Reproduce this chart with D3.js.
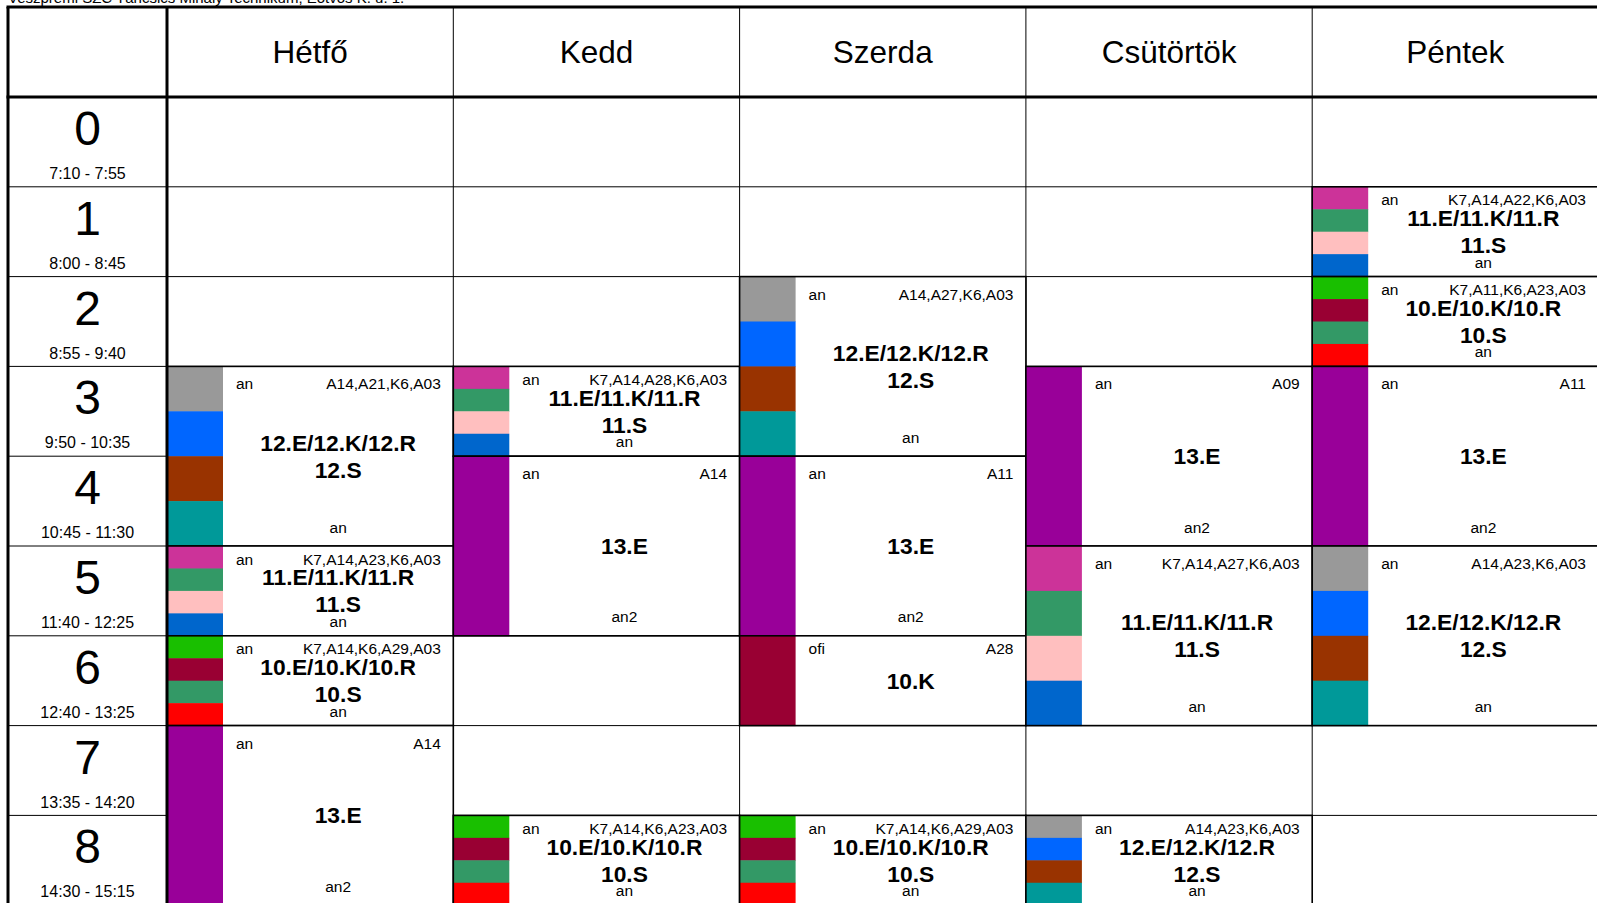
<!DOCTYPE html>
<html>
<head>
<meta charset="utf-8">
<script src="https://cdn.jsdelivr.net/npm/d3@7"></script>
<style>
  html, body { margin: 0; padding: 0; background: #fff; overflow: hidden; }
  svg { display: block; font-family: "Liberation Sans", Arial, sans-serif; }
</style>
</head>
<body>
<svg id="chart" width="1597" height="903"></svg>
<script>
// --- data ---
const title = 'Veszprémi SZC Táncsics Mihály Technikum, Eötvös K. u. 1.';
const days = ['Hétfő', 'Kedd', 'Szerda', 'Csütörtök', 'Péntek'];
const periods = ['0', '1', '2', '3', '4', '5', '6', '7', '8'];
const times = ['7:10 - 7:55', '8:00 - 8:45', '8:55 - 9:40', '9:50 - 10:35', '10:45 - 11:30',
  '11:40 - 12:25', '12:40 - 13:25', '13:35 - 14:20', '14:30 - 15:15'];

// group colour stripes
const colors12 = ['#999999', '#0066ff', '#993300', '#009999'];
const colors11 = ['#cc3399', '#339966', '#ffbfbf', '#0066cc'];
const colors10 = ['#19bf00', '#990033', '#339966', '#ff0000'];
const colors13 = ['#990099'];
const colorsOfi = ['#990033'];

const class12 = ['12.E/12.K/12.R', '12.S'];
const class11 = ['11.E/11.K/11.R', '11.S'];
const class10 = ['10.E/10.K/10.R', '10.S'];

// day, period, span, subject, rooms, classes, teacher, colours
const lessons = [
  ['Hétfő', 3, 2, 'an', 'A14,A21,K6,A03', class12, 'an', colors12],
  ['Hétfő', 5, 1, 'an', 'K7,A14,A23,K6,A03', class11, 'an', colors11],
  ['Hétfő', 6, 1, 'an', 'K7,A14,K6,A29,A03', class10, 'an', colors10],
  ['Hétfő', 7, 2, 'an', 'A14', ['13.E'], 'an2', colors13],
  ['Kedd', 3, 1, 'an', 'K7,A14,A28,K6,A03', class11, 'an', colors11],
  ['Kedd', 4, 2, 'an', 'A14', ['13.E'], 'an2', colors13],
  ['Kedd', 8, 1, 'an', 'K7,A14,K6,A23,A03', class10, 'an', colors10],
  ['Szerda', 2, 2, 'an', 'A14,A27,K6,A03', class12, 'an', colors12],
  ['Szerda', 4, 2, 'an', 'A11', ['13.E'], 'an2', colors13],
  ['Szerda', 6, 1, 'ofi', 'A28', ['10.K'], '', colorsOfi],
  ['Szerda', 8, 1, 'an', 'K7,A14,K6,A29,A03', class10, 'an', colors10],
  ['Csütörtök', 3, 2, 'an', 'A09', ['13.E'], 'an2', colors13],
  ['Csütörtök', 5, 2, 'an', 'K7,A14,A27,K6,A03', class11, 'an', colors11],
  ['Csütörtök', 8, 1, 'an', 'A14,A23,K6,A03', class12, 'an', colors12],
  ['Péntek', 1, 1, 'an', 'K7,A14,A22,K6,A03', class11, 'an', colors11],
  ['Péntek', 2, 1, 'an', 'K7,A11,K6,A23,A03', class10, 'an', colors10],
  ['Péntek', 3, 2, 'an', 'A11', ['13.E'], 'an2', colors13],
  ['Péntek', 5, 2, 'an', 'A14,A23,K6,A03', class12, 'an', colors12]
].map(([day, period, span, subject, rooms, classes, teacher, colors]) =>
  ({ day, period, span, subject, rooms, classes, teacher, colors }));

// --- layout ---
const svg = d3.select('#chart');
const frameLeft = 8, colSplit = 167, frameRight = 1598.5;
const frameTop = 7, headBottom = 97, rowH = 89.8;
const barW = 56;

const x = d3.scaleBand().domain(days).range([colSplit, frameRight]).paddingInner(0).paddingOuter(0);
const y = d3.scaleLinear().domain([0, periods.length]).range([headBottom, headBottom + rowH * periods.length]);

svg.append('rect').attr('width', 1597).attr('height', 903).attr('fill', '#fff');

svg.append('text')
  .attr('x', 8).attr('y', 3)
  .attr('font-size', 15)
  .text(title);

// thin grid
const grid = svg.append('g').attr('stroke', '#000').attr('stroke-width', 1);
grid.selectAll('line.h').data(d3.range(1, periods.length + 1)).join('line')
  .attr('class', 'h')
  .attr('x1', frameLeft).attr('x2', frameRight)
  .attr('y1', d => y(d)).attr('y2', d => y(d));
grid.selectAll('line.v').data(days.slice(1)).join('line')
  .attr('class', 'v')
  .attr('x1', d => x(d)).attr('x2', d => x(d))
  .attr('y1', frameTop).attr('y2', y(periods.length));

// day headers
svg.append('g').selectAll('text').data(days).join('text')
  .attr('x', d => x(d) + x.bandwidth() / 2)
  .attr('y', frameTop + 56)
  .attr('text-anchor', 'middle')
  .attr('font-size', 31.5)
  .text(d => d);

// period labels
const pg = svg.append('g').attr('text-anchor', 'middle');
pg.selectAll('text.num').data(periods).join('text')
  .attr('class', 'num')
  .attr('x', (frameLeft + colSplit) / 2)
  .attr('y', (d, i) => y(i) + 48)
  .attr('font-size', 48)
  .text(d => d);
pg.selectAll('text.time').data(times).join('text')
  .attr('class', 'time')
  .attr('x', (frameLeft + colSplit) / 2)
  .attr('y', (d, i) => y(i) + 82)
  .attr('font-size', 16)
  .text(d => d);

// lessons
const blocks = svg.append('g').selectAll('g').data(lessons).join('g')
  .attr('transform', d => `translate(${x(d.day)},${y(d.period)})`);

blocks.each(function (d) {
  const g = d3.select(this);
  const w = x.bandwidth();
  const h = y(d.period + d.span) - y(d.period);
  g.append('rect').attr('width', w).attr('height', h).attr('fill', '#fff');
  const stripe = h / d.colors.length;
  g.selectAll('rect.stripe').data(d.colors).join('rect')
    .attr('class', 'stripe')
    .attr('x', 0).attr('y', (c, i) => i * stripe)
    .attr('width', barW).attr('height', stripe + 0.5)
    .attr('fill', c => c);
  g.append('rect').attr('width', w).attr('height', h)
    .attr('fill', 'none').attr('stroke', '#000').attr('stroke-width', 1.6);

  const topY = d.span === 1 ? 18.7 : 23;
  const botY = h - (d.span === 1 ? 9 : 13.3);
  const mid = barW + (w - barW) / 2;
  g.append('text').attr('x', barW + 13).attr('y', topY)
    .attr('font-size', 15.5).text(d.subject);
  g.append('text').attr('x', w - 12.5).attr('y', topY)
    .attr('text-anchor', 'end').attr('font-size', 15.5).text(d.rooms);
  const n = d.classes.length;
  g.selectAll('text.cls').data(d.classes).join('text')
    .attr('class', 'cls')
    .attr('x', mid)
    .attr('y', (c, i) => h / 2 + 8 + (i - (n - 1) / 2) * 27)
    .attr('text-anchor', 'middle')
    .attr('font-size', 22.8).attr('font-weight', 'bold')
    .text(c => c);
  if (d.teacher) {
    g.append('text').attr('x', mid).attr('y', botY)
      .attr('text-anchor', 'middle').attr('font-size', 15.5).text(d.teacher);
  }
});

// thick frame lines
const thick = svg.append('g').attr('stroke', '#000').attr('stroke-width', 3);
thick.append('line').attr('x1', frameLeft - 1.5).attr('x2', frameRight).attr('y1', frameTop).attr('y2', frameTop);
thick.append('line').attr('x1', frameLeft - 1.5).attr('x2', frameRight).attr('y1', headBottom).attr('y2', headBottom);
thick.append('line').attr('x1', frameLeft).attr('x2', frameLeft).attr('y1', frameTop).attr('y2', y(periods.length));
thick.append('line').attr('x1', colSplit).attr('x2', colSplit).attr('y1', frameTop).attr('y2', y(periods.length));
</script>
</body>
</html>
